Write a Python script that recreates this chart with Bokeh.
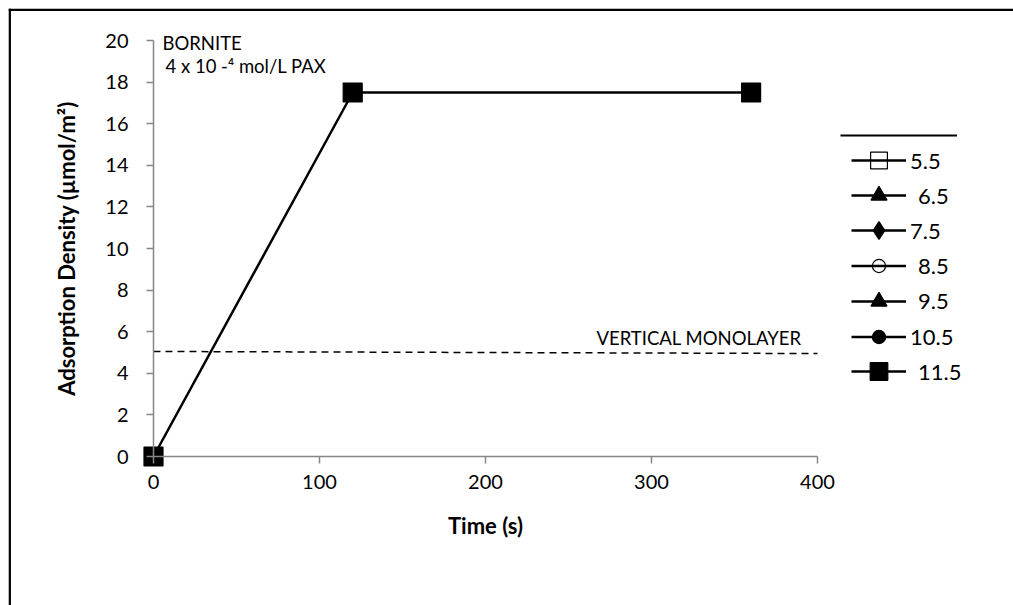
from bokeh.plotting import figure
from bokeh.models import Legend, LegendItem, Span, Label, FixedTicker
from bokeh.embed import file_html
from bokeh.resources import INLINE

NAN = float("nan")

# ---- data ----
time_s = [0, 120, 360]
ph_labels = ["5.5", "6.5", "7.5", "8.5", "9.5", "10.5", "11.5"]
# only the pH 11.5 series has visible points; the others appear in the legend only
ads_55 = [NAN]
ads_65 = [NAN]
ads_75 = [NAN]
ads_85 = [NAN]
ads_95 = [NAN]
ads_105 = [NAN]
ads_115 = [0.0, 17.5, 17.5]
monolayer_x = [0, 400]
monolayer_y = [5.05, 4.95]
x_ticks = [0, 100, 200, 300, 400]
y_ticks = [0, 2, 4, 6, 8, 10, 12, 14, 16, 18, 20]

# ---- layout (pixel mapping) ----
W, H = 1013, 605
FL, FT = 8, 8
X0PX, X400PX = 153, 817
Y0PX, Y20PX = 456, 40
sx = (X400PX - X0PX) / 400.0
sy = (Y0PX - Y20PX) / 20.0
x_start = -(X0PX - FL) / sx
x_end = x_start + (W - FL) / sx
y_end = 20 + (Y20PX - FT) / sy
y_start = -(H - Y0PX) / sy

FONT = "Lato"
AX = "#868686"

p = figure(width=W, height=H, x_range=(x_start, x_end), y_range=(y_start, y_end),
           output_backend="svg", toolbar_location=None,
           min_border_left=FL, min_border_top=FT, min_border_right=0, min_border_bottom=0)
p.outline_line_color = None
p.grid.visible = False
p.background_fill_color = "white"
p.border_fill_color = "white"

for ax in (p.xaxis[0], p.yaxis[0]):
    ax.fixed_location = 0
    ax.axis_line_color = AX
    ax.axis_line_width = 1.5
    ax.major_tick_line_color = AX
    ax.major_tick_line_width = 1.5
    ax.major_tick_in = 0
    ax.major_tick_out = 7
    ax.minor_tick_line_color = None
    ax.major_label_text_font = FONT
    ax.major_label_text_font_size = "20px"
    ax.major_label_text_color = "black"
    ax.axis_label_text_font = FONT
    ax.axis_label_text_font_size = "22px"
    ax.axis_label_text_font_style = "bold"
    ax.axis_label_text_color = "black"

p.xaxis[0].bounds = (0, 400)
p.xaxis[0].ticker = FixedTicker(ticks=x_ticks)
p.xaxis[0].major_label_standoff = 11
p.xaxis[0].axis_label = "Time (s)"
p.xaxis[0].axis_label_standoff = 20

p.yaxis[0].bounds = (0, 20)
p.yaxis[0].ticker = FixedTicker(ticks=y_ticks)
p.yaxis[0].major_label_standoff = 18
p.yaxis[0].axis_label = "Adsorption Density (µmol/m²)"
p.yaxis[0].axis_label_standoff = 22

# outer border (left and top)
p.add_layout(Span(location=x_start + 1.2 / sx, dimension="height", line_color="black", line_width=2.5))
p.add_layout(Span(location=y_end - 1.2 / sy, dimension="width", line_color="black", line_width=2.5))

# monolayer reference line
p.line(monolayer_x, monolayer_y, line_color="black", line_width=1.5, line_dash="7 5")
p.add_layout(Label(x=(596 - X0PX) / sx, y=5.15, text="VERTICAL MONOLAYER", text_font=FONT,
                   text_font_size="18.5px", text_color="black", text_baseline="bottom"))

p.add_layout(Label(x=(162 - X0PX) / sx, y=(Y0PX - 31) / sy, text="BORNITE", text_font=FONT,
                   text_font_size="18.5px", text_color="black", text_baseline="top"))
p.add_layout(Label(x=(165 - X0PX) / sx, y=(Y0PX - 54) / sy, text="4 x 10 -\u2074 mol/L PAX",
                   text_font=FONT, text_font_size="18.5px", text_color="black", text_baseline="top"))

series = [ads_55, ads_65, ads_75, ads_85, ads_95, ads_105, ads_115]
markers = ["square", "triangle", "diamond", "circle", "triangle", "circle", "square"]
fills = [None, "black", "black", None, "black", "black", "black"]
sizes = [14, 14, 16, 12, 14, 12, 19]
# legend glyph box heights (marker size in legend = 0.4 * box) and label offsets
leg_glyph_h = [42, 40, 44, 33, 40, 33, 44]
leg_standoff = [4, 12, 4, 12, 12, 4, 12]

LEG_X = 851          # left end of legend sample lines (px)
LEG_Y0 = 160         # centre of first entry (px)
LEG_DY = 35.2        # entry pitch (px)

for i, (lab, ys, mk, fc, sz) in enumerate(zip(ph_labels, series, markers, fills, sizes)):
    xs = time_s[:len(ys)]
    ln = p.line(xs, ys, line_color="black", line_width=2.5)
    sc = p.scatter(xs, ys, marker=mk, size=sz, fill_color=fc, line_color="black", line_width=1.2)
    gh = leg_glyph_h[i]
    cy = LEG_Y0 + LEG_DY * i
    lg = Legend(items=[LegendItem(label=lab, renderers=[ln, sc])],
                location=(LEG_X - FL, H - (cy + gh / 2.0)),
                glyph_width=55, glyph_height=gh, spacing=0, label_standoff=leg_standoff[i],
                padding=0, margin=0, border_line_color=None, background_fill_alpha=0,
                label_text_font=FONT, label_text_font_size="22px", label_text_color="black",
                label_height=20)
    p.add_layout(lg)

top_ln = p.line([NAN], [NAN], line_color="black", line_width=2)
legend2 = Legend(items=[LegendItem(label=" ", renderers=[top_ln])], location=(840 - FL, H - 145),
                 glyph_width=117, glyph_height=20, padding=0, margin=0, label_standoff=0,
                 border_line_color=None, background_fill_alpha=0, label_text_font_size="10px")
p.add_layout(legend2)

open("out.html", "w").write(file_html(p, INLINE))
